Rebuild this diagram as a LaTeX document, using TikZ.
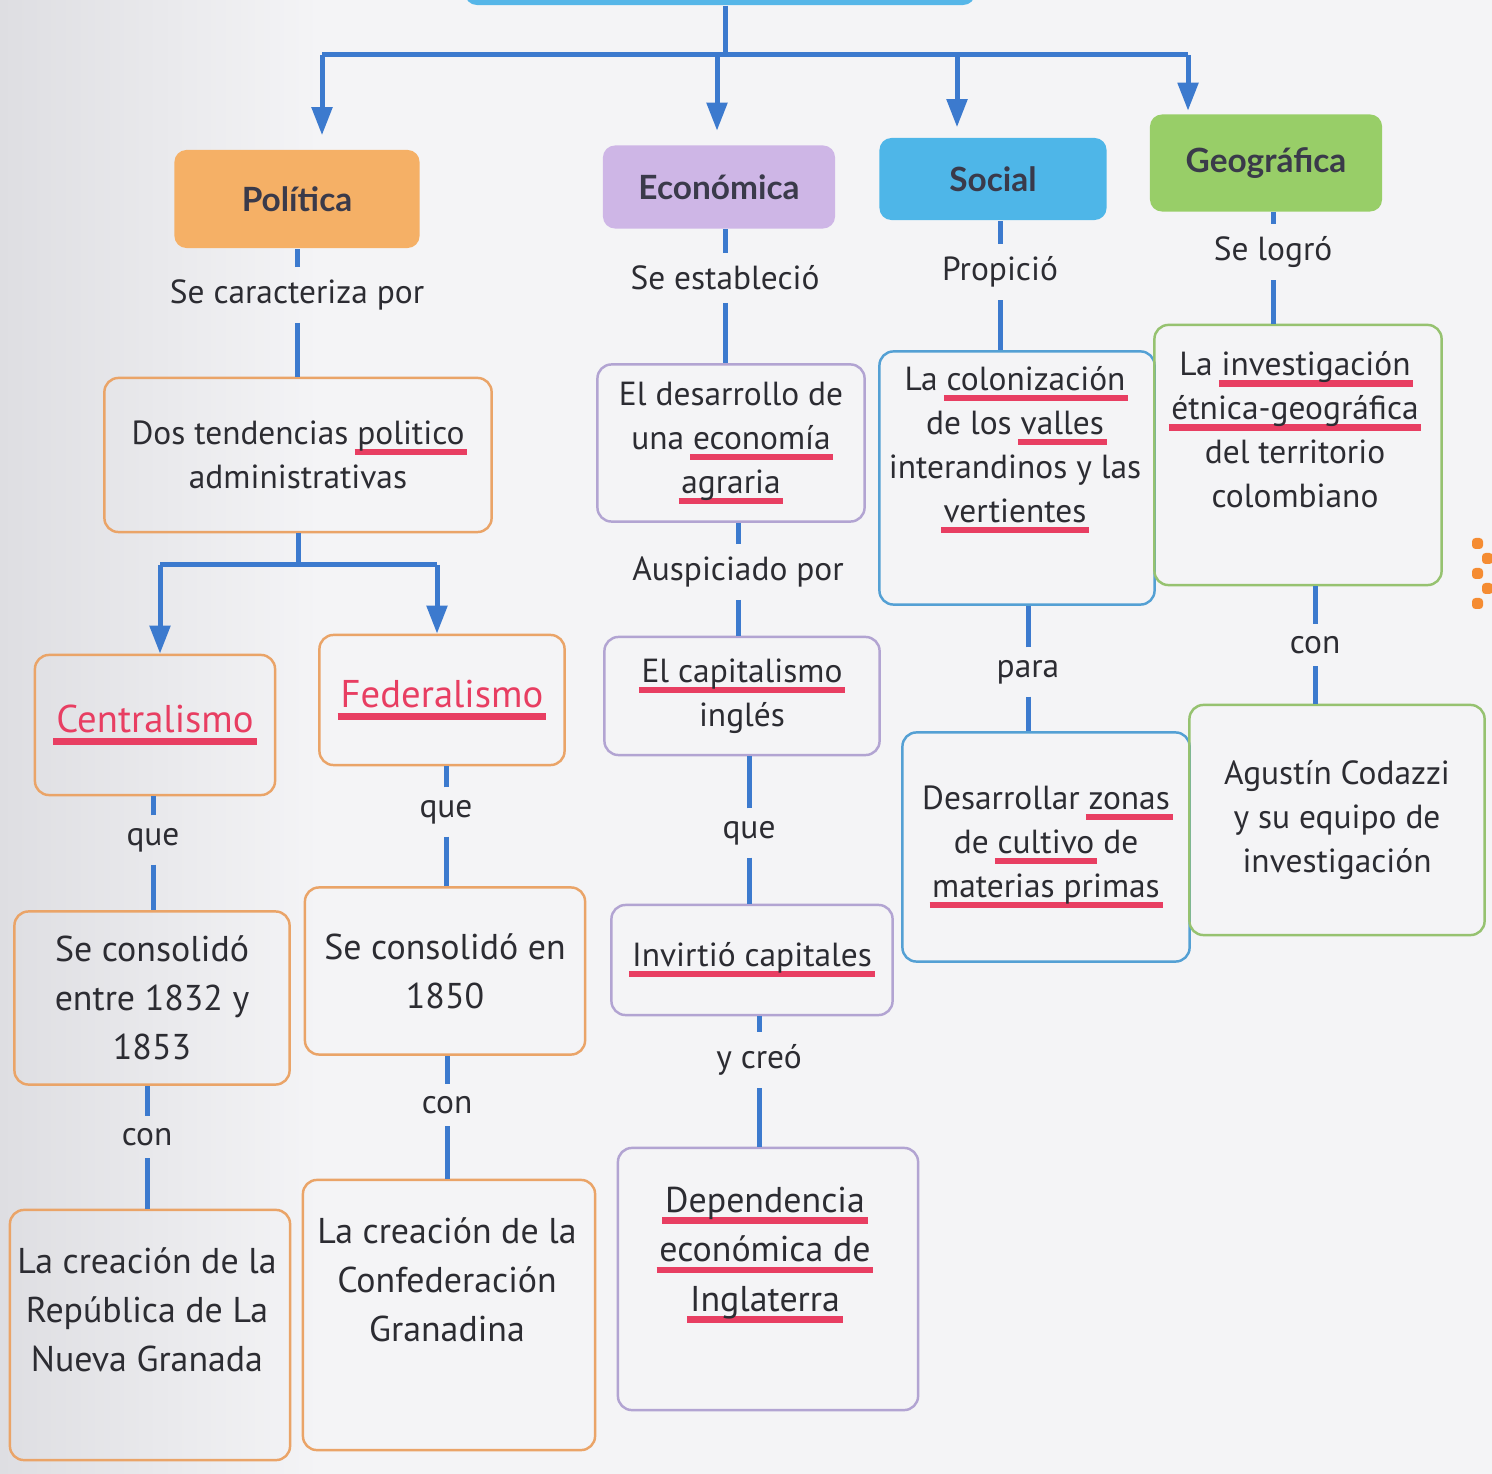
\documentclass[tikz,border=0pt]{standalone}
\usepackage{fontspec}
\setmainfont{PT Sans}
\newfontfamily\headfont{Lato}
\usepackage{tikz}
\usetikzlibrary{
    positioning,
    arrows.meta
}
\definecolor{paper}{RGB}{244, 244, 246}
\definecolor{paperDark}{RGB}{222, 222, 226}
\definecolor{linkBlue}{RGB}{60, 122, 206}
\definecolor{topBlue}{RGB}{86, 182, 232}
\definecolor{polOrange}{RGB}{245, 176, 102}
\definecolor{ecoLilac}{RGB}{206, 182, 230}
\definecolor{socBlue}{RGB}{78, 182, 232}
\definecolor{geoGreen}{RGB}{152, 206, 104}
\definecolor{lineOrange}{RGB}{234, 164, 104}
\definecolor{lineLilac}{RGB}{178, 164, 210}
\definecolor{lineBlue}{RGB}{84, 160, 212}
\definecolor{lineGreen}{RGB}{150, 194, 112}
\definecolor{bodyText}{RGB}{44, 44, 50}
\definecolor{headText}{RGB}{58, 58, 74}
\definecolor{hlRed}{RGB}{232, 62, 98}
\definecolor{dotOrange}{RGB}{245, 140, 50}

% red marker under a word
\newcommand{\hl}[1]{\setbox0=\hbox{#1}\rlap{\hskip-0.08em\textcolor{hlRed}{\rule[-0.32em]{\dimexpr\wd0+0.16em\relax}{0.19em}}}\box0\relax}

\tikzset{
    dims/.style 2 args={minimum width=#1cm, minimum height=#2cm},
    head/.style={rounded corners=0.12cm, inner sep=0pt, text=headText,
        font=\headfont\bfseries\fontsize{9.5}{11}\selectfont},
    box/.style={draw=#1, line width=0.7pt, rounded corners=0.14cm, inner sep=0pt,
        align=center, text=bodyText, font=\fontsize{9.5}{12.5}\selectfont},
    txt/.style={align=center, inner sep=0pt, text=bodyText,
        font=\fontsize{9.5}{12.5}\selectfont},
    big/.style={font=\fontsize{10.2}{14}\selectfont},
    lbl/.style={inner sep=0.12cm, text=bodyText, font=\fontsize{9.5}{12}\selectfont},
    link/.style={draw=linkBlue, line width=0.05cm},
    arr/.style={link, -{Triangle[width=0.2cm, length=0.28cm]}}
}

\begin{document}
\begin{tikzpicture}[x=0.01cm, y=-0.01cm]
    \useasboundingbox (0,0) rectangle (1492,1474);
    \clip (0,0) rectangle (1492,1474);
    \fill[paper] (0,0) rectangle (1492,1474);
    \shade[left color=paperDark, right color=paper] (0,0) rectangle (320,1474);

    % top of the tree
    \node[head, fill=topBlue, dims={5.1}{0.6}] (top) at (720,-25) {};
    \coordinate (hub) at (725,55);
    \coordinate (bPol) at (322,55);
    \coordinate (bEco) at (717,55);
    \coordinate (bSoc) at (957,55);
    \coordinate (bGeo) at (1188,55);

    \node[head, fill=polOrange, dims={2.45}{0.98}] (pol) at (297,199) {Política};
    \node[head, fill=ecoLilac, dims={2.32}{0.83}] (eco) at (719,187) {Económica};
    \node[head, fill=socBlue, dims={2.27}{0.82}] (soc) at (993,179) {Social};
    \node[head, fill=geoGreen, dims={2.32}{0.97}] (geo) at (1266,163) {Geográfica};

    \draw[link] (hub |- top.south) -- (hub);
    \draw[link] (bPol) -- (bGeo);
    \draw[arr, shorten >=0.14cm] (bPol) -- (bPol |- pol.north);
    \draw[arr, shorten >=0.14cm] (bEco) -- (bEco |- eco.north);
    \draw[arr, shorten >=0.1cm] (bSoc) -- (bSoc |- soc.north);
    \draw[arr, shorten >=0.03cm] (bGeo) -- (bGeo |- geo.north);

    % Politica
    \node[lbl] (sePol) at (297,295) {Se caracteriza por};
    \node[box=lineOrange, dims={3.87}{1.54}] (dos) at (298,455)
        {Dos tendencias \hl{politico}\\administrativas};
    \coordinate (split) at (298,565);
    \coordinate (sCen) at (160,565);
    \coordinate (sFed) at (437,565);
    \node[box=lineOrange, dims={2.40}{1.40}, font=\fontsize{11}{13}\selectfont] (cen) at (155,725)
        {\textcolor{hlRed}{\hl{Centralismo}}};
    \node[box=lineOrange, dims={2.45}{1.30}, font=\fontsize{11}{13}\selectfont] (fed) at (442,700)
        {\textcolor{hlRed}{\hl{Federalismo}}};

    \node[lbl] (que1) at (153,840) {que};
    \node[box=lineOrange, big, dims={2.75}{1.73}] (cons1) at (152,998)
        {Se consolidó\\entre 1832 y\\1853};
    \node[lbl] (con1) at (147,1137) {con};
    \node[box=lineOrange, dims={2.80}{2.50}] (crea1) at (150,1335) {};
    \node[txt, big] (crea1T) at (147,1310) {La creación de la\\República de La\\Nueva Granada};

    \node[lbl] (que2) at (446,812) {que};
    \node[box=lineOrange, big, dims={2.80}{1.67}] (cons2) at (445,971)
        {Se consolidó en\\1850};
    \node[lbl] (con2) at (447,1105) {con};
    \node[box=lineOrange, dims={2.92}{2.70}] (crea2) at (449,1315) {};
    \node[txt, big] (crea2T) at (447,1280) {La creación de la\\Confederación\\Granadina};

    % Economica
    \node[lbl] (seEst) at (725,278) {Se estableció};
    \node[box=lineLilac, dims={2.67}{1.57}] (agr) at (731,443)
        {El desarrollo de\\una \hl{economía}\\\hl{agraria}};
    \node[lbl] (ausp) at (738,572) {Auspiciado por};
    \node[box=lineLilac, dims={2.75}{1.18}] (cap) at (742,696)
        {\hl{El capitalismo}\\inglés};
    \node[lbl] (que3) at (749,833) {que};
    \node[box=lineLilac, dims={2.81}{1.10}] (inv) at (752,960)
        {\hl{Invirtió capitales}};
    \node[lbl] (ycreo) at (759,1060) {y creó};
    \node[box=lineLilac, dims={3.00}{2.62}] (dep) at (768,1279) {};
    \node[txt, big] (depT) at (765,1255) {\hl{Dependencia}\\\hl{económica de}\\\hl{Inglaterra}};

    % Social
    \node[lbl] (propi) at (1000,272) {Propició};
    \node[box=lineBlue, dims={2.75}{2.53}] (col) at (1017,478) {};
    \node[txt] (colT) at (1015,450) {La \hl{colonización}\\de los \hl{valles}\\interandinos y las\\\hl{vertientes}};
    \node[lbl] (para) at (1028,672) {para};
    \node[box=lineBlue, dims={2.87}{2.29}] (zon) at (1046,847)
        {Desarrollar \hl{zonas}\\de \hl{cultivo} de\\\hl{materias primas}};

    % Geografica
    \node[lbl] (seLog) at (1273,252) {Se logró};
    \node[box=lineGreen, dims={2.87}{2.60}] (etn) at (1298,455) {};
    \node[txt] (etnT) at (1295,430) {La \hl{investigación}\\\hl{étnica-geográfica}\\del territorio\\colombiano};
    \node[lbl] (con3) at (1315,645) {con};
    \node[box=lineGreen, dims={2.95}{2.30}] (cod) at (1337,820)
        {Agustín Codazzi\\y su equipo de\\investigación};

    % connectors broken by the labels
    \foreach \nA/\nL/\nB in {pol/sePol/dos, cen/que1/cons1, cons1/con1/crea1,
        fed/que2/cons2, cons2/con2/crea2, eco/seEst/agr, agr/ausp/cap, cap/que3/inv,
        inv/ycreo/dep, soc/propi/col, col/para/zon, geo/seLog/etn, etn/con3/cod} {
        \draw[link] (\nL.north) -- (\nL.north |- \nA.south);
        \draw[link] (\nL.south) -- (\nL.south |- \nB.north);
    }

    \draw[link] (dos.south) -- (split);
    \draw[link] (sCen) -- (sFed);
    \draw[arr] (sCen) -- (sCen |- cen.north);
    \draw[arr] (sFed) -- (sFed |- fed.north);

    % page edge dots
    \foreach \i in {0,...,4} {
        \fill[dotOrange, rounded corners=1pt] ({1472+mod(\i,2)*10},{538+\i*15}) rectangle ++(11,11);
    }
\end{tikzpicture}
\end{document}
